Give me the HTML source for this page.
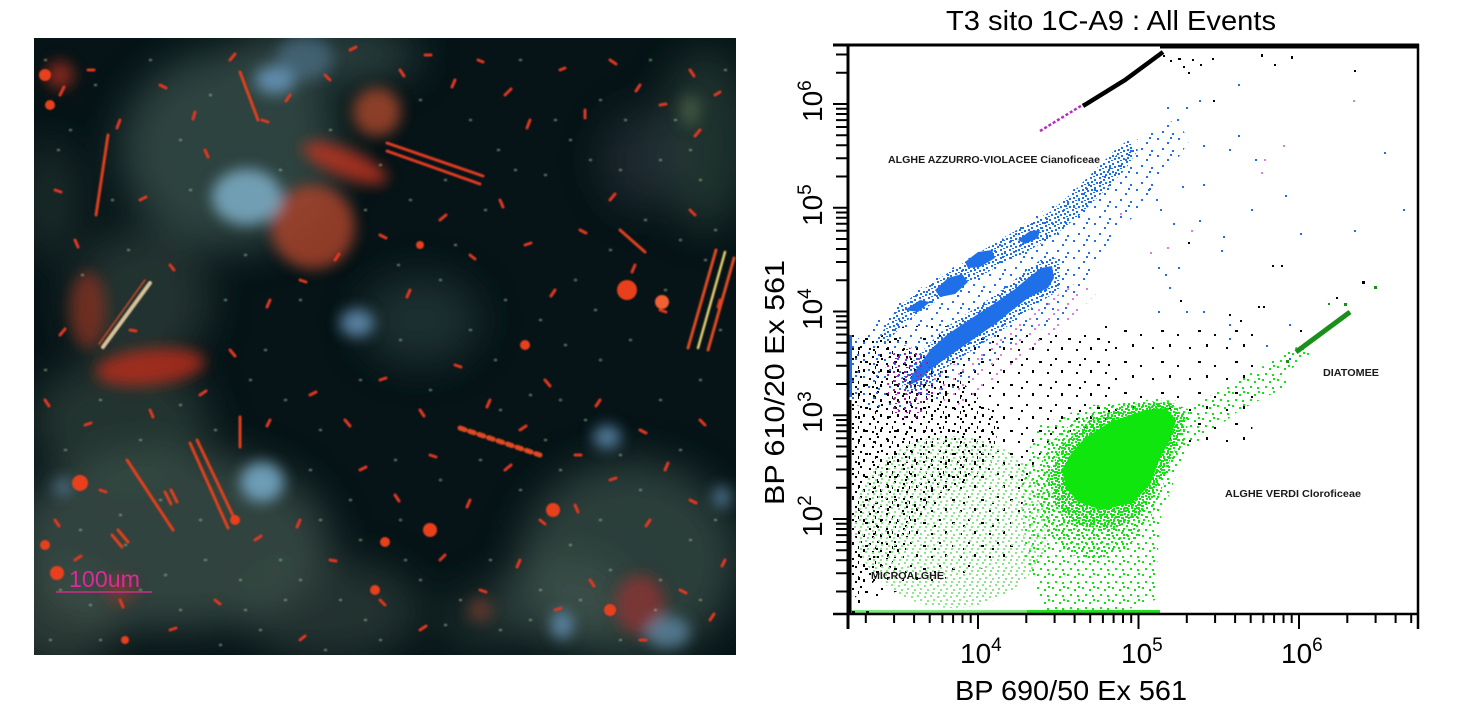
<!DOCTYPE html>
<html><head><meta charset="utf-8">
<style>
html,body{margin:0;padding:0;background:#fff;}
body{width:1473px;height:724px;overflow:hidden;position:relative;}
svg{position:absolute;left:0;top:0;}
text{font-family:"Liberation Sans",Arial,sans-serif;}
</style></head><body>
<svg width="1473" height="724" viewBox="0 0 1473 724" xmlns="http://www.w3.org/2000/svg">
<defs>
 <clipPath id="cp"><rect x="34" y="38" width="702" height="617"/></clipPath>
 <clipPath id="cs"><rect x="849" y="46" width="568" height="567"/></clipPath>
 <filter id="b20" x="-50%" y="-50%" width="200%" height="200%"><feGaussianBlur stdDeviation="20"/></filter>
 <filter id="b8" x="-50%" y="-50%" width="200%" height="200%"><feGaussianBlur stdDeviation="7"/></filter>
 <filter id="b1" x="-20%" y="-20%" width="140%" height="140%"><feGaussianBlur stdDeviation="0.9"/></filter>
 <pattern id="kS" patternUnits="userSpaceOnUse" width="29" height="23"><g fill="#000"><rect x="3" y="4" width="2" height="2"/><rect x="17" y="2" width="2" height="3"/><rect x="11" y="13" width="2" height="2"/><rect x="24" y="16" width="3" height="2"/><rect x="6" y="19" width="2" height="2"/></g></pattern>
 <pattern id="kV" patternUnits="userSpaceOnUse" width="37" height="31"><g fill="#000"><rect x="5" y="6" width="2" height="2"/><rect x="22" y="3" width="2" height="3"/><rect x="14" y="20" width="3" height="2"/><rect x="30" y="24" width="2" height="2"/></g></pattern>
 <pattern id="kD" patternUnits="userSpaceOnUse" width="17" height="15"><g fill="#000"><rect x="2" y="3" width="2" height="2"/><rect x="10" y="1" width="2" height="2"/><rect x="13" y="9" width="2" height="3"/><rect x="5" y="11" width="2" height="2"/><rect x="8" y="6" width="1" height="3"/></g></pattern>
 <pattern id="bS" patternUnits="userSpaceOnUse" width="21" height="17"><g fill="#1f70e8"><rect x="2" y="2" width="2" height="2"/><rect x="12" y="6" width="2" height="2"/><rect x="7" y="12" width="2" height="2"/><rect x="17" y="14" width="2" height="2"/><rect x="15" y="1" width="2" height="2"/></g></pattern>
 <pattern id="bD" patternUnits="userSpaceOnUse" width="9" height="8"><g fill="#1f70e8"><rect x="1" y="1" width="2" height="2"/><rect x="5" y="3" width="2" height="2"/><rect x="2" y="5" width="2" height="2"/><rect x="7" y="6" width="2" height="2"/><rect x="4" y="0" width="2" height="1"/></g></pattern>
 <pattern id="gL" patternUnits="userSpaceOnUse" width="13" height="11"><g fill="#8ae88a"><rect x="1" y="2" width="2" height="2"/><rect x="7" y="1" width="2" height="2"/><rect x="4" y="6" width="2" height="2"/><rect x="10" y="5" width="2" height="2"/><rect x="2" y="9" width="2" height="2"/><rect x="9" y="9" width="2" height="2"/></g></pattern>
 <pattern id="gS" patternUnits="userSpaceOnUse" width="15" height="13"><g fill="#18e018"><rect x="2" y="2" width="2" height="2"/><rect x="9" y="4" width="2" height="2"/><rect x="5" y="9" width="2" height="2"/><rect x="12" y="10" width="2" height="2"/><rect x="13" y="1" width="2" height="2"/></g></pattern>
 <pattern id="gM" patternUnits="userSpaceOnUse" width="10" height="9"><g fill="#14e214"><rect x="1" y="1" width="2" height="2"/><rect x="6" y="3" width="2" height="2"/><rect x="3" y="6" width="2" height="2"/><rect x="8" y="7" width="2" height="2"/></g></pattern>
 <pattern id="gD" patternUnits="userSpaceOnUse" width="7" height="6"><g fill="#10e410"><rect x="1" y="1" width="2" height="2"/><rect x="4" y="3" width="2" height="2"/><rect x="0" y="4" width="2" height="2"/><rect x="5" y="0" width="2" height="2"/></g></pattern>
 <pattern id="mS" patternUnits="userSpaceOnUse" width="11" height="9"><g fill="#9b1fa8"><rect x="2" y="2" width="2" height="2"/><rect x="7" y="5" width="2" height="2"/><rect x="4" y="7" width="2" height="1"/></g></pattern>
 <pattern id="mP" patternUnits="userSpaceOnUse" width="19" height="15"><g fill="#e07ee0"><rect x="3" y="3" width="2" height="2"/><rect x="12" y="9" width="2" height="2"/><rect x="8" y="13" width="2" height="2"/></g></pattern>
</defs>

<!-- ===== PHOTO ===== -->
<g clip-path="url(#cp)">
 <rect x="34" y="38" width="702" height="617" fill="#061417"/>
 <g filter="url(#b20)">
  <ellipse cx="230" cy="150" rx="110" ry="100" fill="#4a635c" opacity="0.6"/>
  <ellipse cx="140" cy="300" rx="70" ry="70" fill="#45594f" opacity="0.45"/>
  <ellipse cx="330" cy="55" rx="90" ry="30" fill="#506a64" opacity="0.5"/>
  <ellipse cx="170" cy="540" rx="160" ry="90" fill="#485d54" opacity="0.65"/>
  <ellipse cx="120" cy="420" rx="90" ry="60" fill="#455a50" opacity="0.45"/>
  <ellipse cx="60" cy="620" rx="60" ry="50" fill="#505b52" opacity="0.5"/>
  <ellipse cx="330" cy="610" rx="90" ry="50" fill="#46584f" opacity="0.45"/>
  <ellipse cx="630" cy="560" rx="110" ry="100" fill="#465c53" opacity="0.6"/>
  <ellipse cx="705" cy="140" rx="45" ry="90" fill="#475e4f" opacity="0.4"/>
  <ellipse cx="420" cy="320" rx="60" ry="45" fill="#425a53" opacity="0.4"/>
  <ellipse cx="560" cy="600" rx="70" ry="45" fill="#4a5f56" opacity="0.45"/>
  <ellipse cx="50" cy="200" rx="30" ry="60" fill="#45594f" opacity="0.3"/>
  <ellipse cx="480" cy="620" rx="40" ry="30" fill="#45594f" opacity="0.35"/>
  <ellipse cx="640" cy="160" rx="40" ry="50" fill="#4e5264" opacity="0.3"/>
 </g>
 <g filter="url(#b8)">
  <circle cx="313" cy="227" r="42" fill="#b0442a" opacity="0.8"/>
  <circle cx="377" cy="112" r="24" fill="#b84c2e" opacity="0.75"/>
  <ellipse cx="345" cy="163" rx="45" ry="14" transform="rotate(22 345 163)" fill="#c23422" opacity="0.8"/>
  <ellipse cx="150" cy="367" rx="55" ry="18" transform="rotate(-6 150 367)" fill="#bc2a1a" opacity="0.8"/>
  <ellipse cx="88" cy="310" rx="18" ry="38" fill="#983020" opacity="0.65"/>
  <ellipse cx="640" cy="605" rx="25" ry="30" fill="#a03030" opacity="0.65"/>
  <circle cx="60" cy="75" r="14" fill="#c03020" opacity="0.65"/>
  <circle cx="120" cy="590" r="14" fill="#a03020" opacity="0.5"/>
  <circle cx="480" cy="610" r="12" fill="#a04030" opacity="0.5"/>
  <ellipse cx="247" cy="197" rx="35" ry="28" fill="#7eaec8" opacity="0.85"/>
  <ellipse cx="275" cy="80" rx="20" ry="14" fill="#6a9cc4" opacity="0.8"/>
  <ellipse cx="305" cy="58" rx="28" ry="22" fill="#5a84a4" opacity="0.5"/>
  <ellipse cx="357" cy="323" rx="17" ry="14" fill="#6a9ac2" opacity="0.8"/>
  <ellipse cx="262" cy="482" rx="22" ry="20" fill="#7aaecc" opacity="0.85"/>
  <ellipse cx="607" cy="437" rx="14" ry="12" fill="#6a9ac2" opacity="0.75"/>
  <ellipse cx="562" cy="625" rx="11" ry="14" fill="#6a9ac2" opacity="0.75"/>
  <ellipse cx="668" cy="632" rx="22" ry="16" fill="#6a98bc" opacity="0.65"/>
  <ellipse cx="722" cy="497" rx="9" ry="11" fill="#6a98c0" opacity="0.65"/>
  <ellipse cx="63" cy="487" rx="9" ry="9" fill="#6a98c0" opacity="0.55"/>
  <ellipse cx="690" cy="110" rx="10" ry="16" fill="#6f8060" opacity="0.45"/>
 </g>
 <path filter="url(#b1)" stroke="#a5b890" stroke-width="2.5" stroke-linecap="round" opacity="0.55" fill="none" d="M45 60h1M70 130h1M95 85h1M112 200h1M150 60h1M180 140h1M210 95h1M245 255h1M280 170h1M300 300h1M330 130h1M365 210h1M398 265h1M420 100h1M445 180h1M470 120h1M498 150h1M520 60h1M545 175h1M570 140h1M600 100h1M620 170h1M650 60h1M675 120h1M700 180h1M725 70h1M680 240h1M645 220h1M610 250h1M575 280h1M540 320h1M505 300h1M470 330h1M440 280h1M400 340h1M360 380h1M320 430h1M285 400h1M250 380h1M215 430h1M180 405h1M140 440h1M100 400h1M65 450h1M45 370h1M80 530h1M120 515h1M160 500h1M200 520h1M240 580h1M280 560h1M320 520h1M360 540h1M400 520h1M440 480h1M480 460h1M520 490h1M560 470h1M600 520h1M640 490h1M680 450h1M715 520h1M700 600h1M660 580h1M620 640h1M580 600h1M540 590h1M500 630h1M460 600h1M420 580h1M380 640h1M340 600h1M300 580h1M260 630h1M220 645h1M180 610h1M140 590h1M100 640h1M60 590h1M500 410h1M545 440h1M585 420h1M620 455h1M660 400h1M700 380h1M600 360h1M560 400h1M58 150h1M82 275h1M128 250h1M190 190h1M225 300h1M265 350h1M310 470h1M350 500h1M395 460h1M430 390h1M465 430h1M495 360h1M530 395h1M565 345h1M595 310h1M630 340h1M665 290h1M705 260h1M720 330h1M690 540h1M655 610h1M610 570h1M570 545h1M530 620h1M490 560h1M445 625h1M405 560h1M365 620h1M325 650h1M285 600h1M245 610h1M205 560h1M165 575h1M125 545h1M90 605h1M50 640h1M380 165h1M410 200h1M455 245h1M485 210h1M515 170h1M555 120h1M590 160h1M625 120h1M660 160h1M690 150h1M715 230h1"/>
 <g filter="url(#b1)" fill="none" stroke-linecap="round">
  <path stroke="#e03820" stroke-width="3" d="M60 95l4 -8M88 70l6 0M120 120l-3 8M160 85l6 3M195 112l-2 7M230 60l5 -6M205 150l3 7M262 120l6 2M290 95l-4 6M325 75l5 5M350 50l6 -3M400 70l4 6M425 55l6 0M455 80l-3 7M478 60l5 2M505 95l6 -6M530 120l-3 8M560 70l5 -2M585 110l0 8M610 60l6 4M640 85l-4 6M660 105l6 -1M690 70l4 6M715 95l5 -3M700 130l-5 6M55 190l6 2M75 240l3 7M140 200l6 -3M170 265l4 5M60 335l5 -6M130 330l6 1M45 400l4 6M85 425l6 -2M150 410l3 7M200 395l6 -4M230 350l5 6M270 300l-3 7M300 280l6 2M335 260l4 -6M380 235l6 3M410 290l-3 7M440 220l6 -5M470 255l5 4M500 200l3 7M525 245l6 -2M555 290l-4 6M580 230l6 3M610 200l5 -6M635 265l-3 7M660 310l6 2M690 210l5 5M720 300l-2 7M380 380l6 -2M420 410l4 6M455 365l6 2M490 400l-3 7M520 430l6 -4M545 380l5 6M575 455l6 0M600 400l-4 6M640 430l6 3M665 470l3 -7M700 420l5 5M725 560l-3 6M360 470l6 -3M395 495l4 6M430 455l6 2M470 500l-3 7M505 470l6 -5M540 520l5 4M575 505l3 7M610 480l6 -2M650 520l-4 6M690 500l6 3M440 560l5 -5M480 590l6 2M520 560l-3 7M555 610l6 -2M590 580l4 6M420 630l6 -4M380 600l5 5M330 560l6 1M300 520l-3 7M255 540l6 -4M215 600l5 4M170 630l6 -2M120 600l3 7M75 560l6 -4M55 520l4 6M100 490l6 2M345 420l5 6M310 395l6 -3M270 420l-3 6M680 590l6 3M710 620l4 -6M640 640l6 0M300 640l5 -4"/>
  <path stroke="#e23a22" stroke-width="3" d="M387 143L483 176M387 151L480 184"/>
  <path stroke="#e04a22" stroke-width="3" d="M688 348L716 250M708 350L734 258"/>
  <path stroke="#e8d070" stroke-width="2.5" d="M698 348L725 252"/>
  <path stroke="#d9c49a" stroke-width="4" d="M103 347L150 283"/>
  <path stroke="#d04a2a" stroke-width="1.5" d="M99 344L145 280"/>
  <path stroke="#e0401e" stroke-width="3" d="M127 460L173 530M190 443L228 528M197 440L236 522M165 492l6 12M171 490l6 12M112 535l10 12M118 530l10 12M240 417L240 447M108 135L96 215M240 72L258 120M620 230L645 252"/>
  <path stroke="#e04a20" stroke-width="5" stroke-dasharray="5 5" d="M460 428L540 455"/>
  <g fill="#e8401f" stroke="none">
   <circle cx="627" cy="290" r="10"/><circle cx="662" cy="302" r="7" fill="#f06030"/><circle cx="553" cy="510" r="7"/><circle cx="430" cy="530" r="7"/><circle cx="80" cy="483" r="8"/><circle cx="57" cy="573" r="7"/><circle cx="45" cy="75" r="6"/><circle cx="375" cy="590" r="5"/><circle cx="525" cy="345" r="5"/><circle cx="385" cy="542" r="5"/><circle cx="45" cy="545" r="5"/><circle cx="610" cy="610" r="6"/><circle cx="420" cy="245" r="4"/><circle cx="235" cy="520" r="5"/><circle cx="125" cy="640" r="4"/><circle cx="50" cy="105" r="5"/>
  </g>
 </g>
 <text x="69" y="587" font-size="23" fill="#dc2a9a" textLength="71" lengthAdjust="spacingAndGlyphs">100um</text>
 <line x1="56" y1="592" x2="152" y2="592" stroke="#c8308a" stroke-width="1.5"/>
</g>

<!-- ===== SCATTER ===== -->
<text x="946" y="30" font-size="28" fill="#000" textLength="330" lengthAdjust="spacingAndGlyphs">T3 sito 1C-A9 : All Events</text>

<g clip-path="url(#cs)">
 <!-- black sparse -->
 <polygon fill="url(#kS)" points="852,330 930,325 1000,330 1080,330 1110,325 1110,420 1050,440 1030,470 1010,560 960,575 900,590 852,610"/>
 <polygon fill="url(#kV)" points="1110,325 1150,320 1260,322 1262,360 1250,445 1180,445 1110,420"/>
 <polygon fill="url(#kD)" points="852,340 900,340 960,380 1000,420 990,470 930,500 900,560 852,600"/>
 <!-- light green -->
 <ellipse cx="952" cy="522" rx="98" ry="86" fill="url(#gL)"/>
 <!-- bright green -->
 <polygon fill="url(#gS)" points="1020,470 1040,425 1090,405 1175,400 1195,425 1178,470 1160,520 1155,600 1120,612 1045,612 1025,560"/>
 <polygon fill="url(#gS)" points="1160,440 1175,415 1230,385 1300,345 1312,352 1260,395 1200,440 1180,452"/>
 <polygon fill="url(#gS)" points="1200,420 1240,390 1280,370 1290,385 1240,410"/>
 <polygon fill="url(#gM)" points="1035,480 1048,445 1075,420 1110,405 1160,398 1190,410 1185,440 1165,480 1150,520 1130,545 1100,560 1070,555 1045,530"/>
 <polygon fill="url(#gD)" points="1048,475 1062,445 1090,420 1130,405 1170,402 1185,418 1175,450 1158,485 1140,515 1110,530 1075,525 1055,505"/>
 <polygon fill="#0ee60e" points="1062,470 1072,452 1085,438 1110,422 1145,410 1166,408 1176,420 1170,440 1160,458 1150,485 1132,503 1102,510 1078,502 1066,488"/>
 <path d="M1296 352L1350 312" stroke="#1b8f1b" stroke-width="5"/>
 <g fill="#1b8f1b"><rect x="1374" y="286" width="3" height="3"/><rect x="1344" y="303" width="3" height="3"/><rect x="1328" y="303" width="2" height="2"/><rect x="1286" y="360" width="3" height="3"/></g>
 <rect x="850" y="610" width="177" height="3" fill="#7de87d"/>
 <rect x="1027" y="610" width="133" height="3" fill="#22dd22"/>
 <!-- blue -->
 <polygon fill="url(#bS)" points="852,345 880,315 940,275 1000,240 1060,200 1110,160 1150,130 1175,120 1190,140 1150,200 1110,240 1080,290 1060,320 1020,340 980,370 940,400 900,410 852,405"/>
 <polygon fill="url(#bD)" points="880,335 900,305 940,278 980,252 1020,228 1050,212 1075,190 1095,170 1115,150 1128,140 1138,150 1125,170 1100,195 1080,215 1055,235 1030,250 995,268 965,285 935,302 905,322 885,345"/>
 <g fill="#1f70e8">
  <polygon points="935,290 948,278 962,274 968,282 955,294 940,297"/>
  <polygon points="965,262 978,252 992,250 995,258 980,267 968,268"/>
  <polygon points="1018,240 1030,231 1040,230 1038,238 1025,244"/>
  <polygon points="905,310 920,300 930,302 918,312"/>
 </g>
 <polygon fill="url(#bD)" points="900,380 915,358 945,328 995,295 1040,260 1060,258 1060,290 1035,305 1000,332 950,365 925,388 905,392"/>
 <polygon fill="#1f70e8" points="912,375 920,364 931,349 948,334 975,316 998,301 1015,289 1028,278 1041,268 1052,266 1054,278 1048,288 1036,294 1028,298 1010,312 998,322 975,338 948,357 931,369 920,380 910,385"/>
 <rect x="848" y="335" width="4" height="62" fill="#1f70e8"/>
 <!-- magenta -->
 <polygon fill="url(#mS)" points="885,360 905,345 930,360 935,395 915,420 890,415"/>
 <polygon fill="url(#mP)" points="930,380 960,360 1010,330 1050,300 1080,280 1100,290 1060,330 1000,380 950,410"/>
 <path d="M1040 131L1058 120L1084 104" stroke="#b52dc0" stroke-width="2.5" stroke-dasharray="3 2" fill="none"/>
 <path d="M1083 106L1125 80L1163 52" stroke="#000" stroke-width="4.5" fill="none"/>
 <!-- isolated points -->
 <g fill="#000">
  <rect x="1163" y="55" width="2" height="2"/><rect x="1170" y="60" width="2" height="2"/><rect x="1178" y="58" width="3" height="2"/><rect x="1183" y="66" width="2" height="2"/><rect x="1188" y="72" width="2" height="2"/><rect x="1192" y="59" width="2" height="2"/><rect x="1200" y="64" width="2" height="2"/><rect x="1212" y="58" width="2" height="2"/><rect x="1261" y="54" width="2" height="3"/><rect x="1274" y="64" width="2" height="2"/><rect x="1291" y="56" width="2" height="3"/><rect x="1354" y="70" width="2" height="2"/><rect x="1213" y="100" width="2" height="2"/><rect x="1188" y="242" width="2" height="2"/><rect x="1281" y="265" width="2" height="2"/><rect x="1272" y="265" width="2" height="2"/><rect x="1362" y="281" width="3" height="3"/><rect x="1229" y="314" width="2" height="2"/><rect x="1258" y="306" width="2" height="2"/><rect x="1263" y="306" width="2" height="2"/><rect x="1336" y="297" width="2" height="2"/><rect x="1300" y="330" width="2" height="2"/><rect x="1240" y="320" width="2" height="2"/><rect x="1180" y="300" width="2" height="2"/><rect x="852" y="611" width="3" height="3"/><rect x="866" y="611" width="3" height="3"/>
 </g>
 <g fill="#1f70e8">
  <rect x="1238" y="84" width="2" height="2"/><rect x="1199" y="100" width="2" height="2"/><rect x="1186" y="107" width="2" height="2"/><rect x="1167" y="107" width="2" height="2"/><rect x="1177" y="119" width="2" height="2"/><rect x="1238" y="135" width="2" height="2"/><rect x="1229" y="149" width="2" height="2"/><rect x="1203" y="145" width="2" height="2"/><rect x="1384" y="152" width="2" height="2"/><rect x="1255" y="159" width="2" height="2"/><rect x="1285" y="195" width="2" height="2"/><rect x="1251" y="209" width="2" height="2"/><rect x="1403" y="209" width="2" height="2"/><rect x="1300" y="233" width="2" height="2"/><rect x="1354" y="230" width="2" height="2"/><rect x="1203" y="184" width="2" height="2"/><rect x="1182" y="186" width="2" height="2"/><rect x="1223" y="236" width="2" height="2"/><rect x="1221" y="250" width="2" height="2"/><rect x="1199" y="220" width="2" height="2"/><rect x="1173" y="223" width="2" height="2"/><rect x="1160" y="209" width="2" height="2"/><rect x="1156" y="199" width="2" height="2"/><rect x="1148" y="189" width="2" height="2"/><rect x="1158" y="267" width="2" height="2"/><rect x="1178" y="267" width="2" height="2"/><rect x="1165" y="274" width="2" height="2"/><rect x="1169" y="287" width="2" height="2"/><rect x="1158" y="311" width="2" height="2"/><rect x="1186" y="311" width="2" height="2"/><rect x="1203" y="311" width="2" height="2"/><rect x="1229" y="324" width="2" height="2"/><rect x="1229" y="338" width="2" height="2"/><rect x="1289" y="324" width="2" height="2"/><rect x="1266" y="345" width="2" height="2"/><rect x="1289" y="358" width="2" height="2"/>
 </g>
 <g fill="#e07ee0">
  <rect x="1353" y="100" width="2" height="2"/><rect x="1283" y="145" width="2" height="2"/><rect x="1261" y="172" width="2" height="2"/><rect x="1264" y="159" width="2" height="2"/><rect x="1191" y="230" width="2" height="2"/><rect x="1167" y="247" width="2" height="2"/><rect x="1150" y="252" width="2" height="2"/><rect x="1120" y="213" width="2" height="2"/>
 </g>
</g>

<!-- annotation labels -->
<g font-weight="bold" fill="#1a1a1a" font-size="10.5">
 <text x="888" y="163" textLength="212" lengthAdjust="spacingAndGlyphs">ALGHE AZZURRO-VIOLACEE Cianoficeae</text>
 <text x="1323" y="376" textLength="56" lengthAdjust="spacingAndGlyphs">DIATOMEE</text>
 <text x="1225" y="497" textLength="136" lengthAdjust="spacingAndGlyphs">ALGHE VERDI Cloroficeae</text>
 <text x="871" y="579" textLength="73" lengthAdjust="spacingAndGlyphs">MICROALGHE</text>
</g>

<!-- frame/axes -->
<g stroke="#000" fill="none">
 <line x1="833" y1="45" x2="1419" y2="45" stroke-width="3"/>
 <line x1="1160" y1="47" x2="1418" y2="47" stroke-width="3"/>
 <line x1="833" y1="614" x2="1419" y2="614" stroke-width="2.5"/>
 <line x1="848" y1="44" x2="848" y2="629" stroke-width="3"/>
 <line x1="850.5" y1="400" x2="850.5" y2="614" stroke-width="2"/>
 <line x1="1418" y1="44" x2="1418" y2="629" stroke-width="2.5"/>
 <path stroke-width="2" d="M978 614v15M1138.5 614v15M1299 614v15M865.8 614v9M894.1 614v9M914.1 614v9M929.7 614v9M942.4 614v9M953.1 614v9M962.5 614v9M970.7 614v9M1026.3 614v9M1054.6 614v9M1074.6 614v9M1090.2 614v9M1102.9 614v9M1113.6 614v9M1123 614v9M1131.2 614v9M1186.8 614v9M1215.1 614v9M1235.1 614v9M1250.7 614v9M1263.4 614v9M1274.1 614v9M1283.5 614v9M1291.7 614v9M1347.3 614v9M1375.6 614v9M1395.6 614v9M1411.2 614v9"/>
 <path stroke-width="2" d="M848 519h-15M848 415.25h-15M848 311.5h-15M848 207.75h-15M848 104h-15M848 591.5h-12M848 573.25h-12M848 560.3h-12M848 550.2h-12M848 542h-12M848 535.1h-12M848 529h-12M848 523.7h-12M848 487.8h-12M848 469.5h-12M848 456.5h-12M848 446.5h-12M848 438.3h-12M848 431.3h-12M848 425.3h-12M848 420h-12M848 384h-12M848 365.75h-12M848 352.8h-12M848 342.7h-12M848 334.5h-12M848 327.6h-12M848 321.55h-12M848 316.25h-12M848 280.3h-12M848 262h-12M848 249h-12M848 239h-12M848 230.8h-12M848 223.8h-12M848 217.8h-12M848 212.5h-12M848 176.5h-12M848 158.25h-12M848 145.3h-12M848 135.2h-12M848 127h-12M848 120.1h-12M848 114h-12M848 108.75h-12M848 72.8h-12M848 54.5h-12"/>
</g>

<!-- tick labels -->
<g font-size="28" fill="#000">
 <text x="960" y="663">10<tspan dy="-12" font-size="19">4</tspan></text>
 <text x="1121" y="663">10<tspan dy="-12" font-size="19">5</tspan></text>
 <text x="1281" y="663">10<tspan dy="-12" font-size="19">6</tspan></text>
 <text transform="translate(822,122) rotate(-90)">10<tspan dy="-11" font-size="19">6</tspan></text>
 <text transform="translate(822,226) rotate(-90)">10<tspan dy="-11" font-size="19">5</tspan></text>
 <text transform="translate(822,330) rotate(-90)">10<tspan dy="-11" font-size="19">4</tspan></text>
 <text transform="translate(822,433) rotate(-90)">10<tspan dy="-11" font-size="19">3</tspan></text>
 <text transform="translate(822,537) rotate(-90)">10<tspan dy="-11" font-size="19">2</tspan></text>
 <text x="955" y="700" textLength="232" lengthAdjust="spacingAndGlyphs">BP 690/50 Ex 561</text>
 <text transform="translate(784,505) rotate(-90)" textLength="245" lengthAdjust="spacingAndGlyphs">BP 610/20 Ex 561</text>
</g>
</svg>
</body></html>
